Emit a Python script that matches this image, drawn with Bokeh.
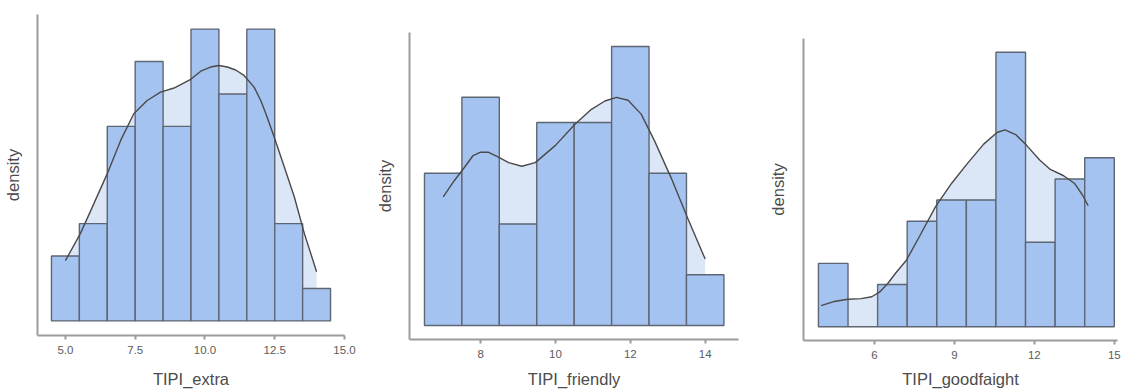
from bokeh.plotting import figure
from bokeh.layouts import row, column
from bokeh.models import FixedTicker, PrintfTickFormatter, Range1d
from bokeh.embed import file_html
from bokeh.resources import INLINE

N_OBS = 54

# ---- TIPI_extra ----
extra_edges = [4.5, 5.5, 6.5, 7.5, 8.5, 9.5, 10.5, 11.5, 12.5, 13.5, 14.5]
extra_counts = [2, 3, 6, 8, 6, 9, 7, 9, 3, 1]
extra_kde_x = [5.0, 5.54, 6.02, 6.5, 6.98, 7.45, 7.93, 8.41, 8.89, 9.49, 9.85, 10.2,
               10.5, 10.8, 11.1, 11.4, 11.76, 12.0, 12.2, 12.48, 12.84, 13.2, 13.56, 14.0]
extra_kde_y = [0.0344, 0.0500, 0.0670, 0.0841, 0.1031, 0.1183, 0.1259, 0.1307, 0.1330,
               0.1380, 0.1426, 0.1450, 0.1459, 0.1450, 0.1433, 0.1402, 0.1335, 0.1259,
               0.1176, 0.1050, 0.0880, 0.0709, 0.0500, 0.0281]
extra_ticks = [5.0, 7.5, 10.0, 12.5, 15.0]

# ---- TIPI_friendly ----
friendly_edges = [6.5, 7.5, 8.5, 9.5, 10.5, 11.5, 12.5, 13.5, 14.5]
friendly_counts = [6, 9, 4, 8, 8, 11, 6, 2]
friendly_kde_x = [7.0, 7.3, 7.55, 7.8, 8.0, 8.2, 8.45, 8.75, 9.1, 9.46, 10.0, 10.52,
                  10.96, 11.32, 11.63, 11.94, 12.29, 12.65, 13.09, 13.53, 14.0]
friendly_kde_y = [0.0939, 0.1059, 0.1148, 0.1241, 0.1265, 0.1265, 0.1233, 0.1189, 0.1163,
                  0.1189, 0.1315, 0.1469, 0.1578, 0.1639, 0.1665, 0.1644, 0.1543, 0.1346,
                  0.1078, 0.0785, 0.0485]
friendly_ticks = [8, 10, 12, 14]

# ---- TIPI_goodfaight ----
good_edges = [3.9, 5.01, 6.12, 7.23, 8.34, 9.45, 10.56, 11.67, 12.78, 13.89, 15.0]
good_counts = [3, 0, 2, 5, 6, 6, 13, 4, 7, 8]
good_kde_x = [4.0, 4.5, 5.0, 5.5, 5.9, 6.2, 6.5, 6.8, 7.2, 7.7, 8.3, 8.9, 9.5, 10.1,
              10.6, 10.9, 11.3, 11.7, 12.2, 12.6, 13.1, 13.5, 13.8, 14.02]
good_kde_y = [0.0167, 0.0200, 0.0217, 0.0222, 0.0237, 0.0275, 0.0342, 0.0425, 0.0526,
              0.0717, 0.0951, 0.1134, 0.1293, 0.1443, 0.1535, 0.1555, 0.1518, 0.1435,
              0.1318, 0.1243, 0.1193, 0.1134, 0.1043, 0.0956]
good_ticks = [6, 9, 12, 15]

BAR_FILL = "#a5c3f0"
BAR_LINE = "#5e6673"
KDE_FILL = "#dbe6f7"
KDE_LINE = "#4a4a4a"
AXIS_COL = "#9c9c9c"
FONT = "Liberation Sans"


def panel(name, edges, counts, kx, ky, ticks, xr, fmt, width, height,
          bl, br, bt, bb, ystand, xstand):
    lefts = edges[:-1]
    rights = edges[1:]
    dens = [c / (N_OBS * (r - l)) for c, l, r in zip(counts, lefts, rights)]
    top = max(dens)
    p = figure(width=width, height=height, output_backend="svg",
               toolbar_location=None, tools="", title_location=None,
               x_range=Range1d(*xr), y_range=Range1d(-0.05 * top, 1.05 * top),
               min_border_left=bl, min_border_right=br,
               min_border_top=bt, min_border_bottom=bb)
    p.varea(x=kx, y1=[0] * len(kx), y2=ky, fill_color=KDE_FILL, fill_alpha=1.0)
    p.quad(left=lefts, right=rights, bottom=0, top=dens,
           fill_color=BAR_FILL, line_color=BAR_LINE, line_width=1.4)
    p.line(kx, ky, line_color=KDE_LINE, line_width=1.4)

    p.outline_line_color = None
    p.xgrid.visible = False
    p.ygrid.visible = False
    p.background_fill_color = "white"
    p.border_fill_color = "white"

    xa = p.xaxis[0]
    xa.ticker = FixedTicker(ticks=ticks)
    xa.formatter = PrintfTickFormatter(format=fmt)
    xa.axis_label = name
    xa.axis_line_color = AXIS_COL
    xa.axis_line_width = 2
    xa.major_tick_line_color = AXIS_COL
    xa.major_tick_line_width = 2
    xa.major_tick_in = 0
    xa.major_tick_out = 4
    xa.minor_tick_line_color = None
    xa.major_label_standoff = 6
    xa.major_label_text_font = FONT
    xa.major_label_text_font_size = "11.5px"
    xa.major_label_text_color = "#5c5c5c"
    xa.axis_label_text_font = FONT
    xa.axis_label_text_font_size = "16.5px"
    xa.axis_label_text_font_style = "normal"
    xa.axis_label_text_color = "#4c4c4c"
    xa.axis_label_standoff = xstand

    ya = p.yaxis[0]
    ya.ticker = FixedTicker(ticks=[])
    ya.axis_label = "density"
    ya.axis_line_color = AXIS_COL
    ya.axis_line_width = 2
    ya.major_tick_in = 0
    ya.major_tick_out = 0
    ya.minor_tick_in = 0
    ya.minor_tick_out = 0
    ya.major_tick_line_color = None
    ya.minor_tick_line_color = None
    ya.major_label_standoff = 0
    ya.major_label_text_font_size = "0px"
    ya.axis_label_text_font = FONT
    ya.axis_label_text_font_size = "16.5px"
    ya.axis_label_text_font_style = "normal"
    ya.axis_label_text_color = "#4c4c4c"
    ya.axis_label_standoff = ystand
    return p


p1 = panel("TIPI_extra", extra_edges, extra_counts, extra_kde_x, extra_kde_y,
           extra_ticks, (4.0, 15.0), "%.1f", 372, 392, 37, 28, 14, 57, 16, 13)
p2 = panel("TIPI_friendly", friendly_edges, friendly_counts, friendly_kde_x,
           friendly_kde_y, friendly_ticks, (6.1, 14.89), "%d", 388, 392,
           35, 22, 32, 53, 16, 9)
p3 = panel("TIPI_goodfaight", good_edges, good_counts, good_kde_x, good_kde_y,
           good_ticks, (3.34, 15.12), "%d", 361, 392, 43, 4, 38, 52, 17, 8)

layout = row(column(p1), column(p2), column(p3), spacing=0)
open("out.html", "w").write(file_html(layout, INLINE))
